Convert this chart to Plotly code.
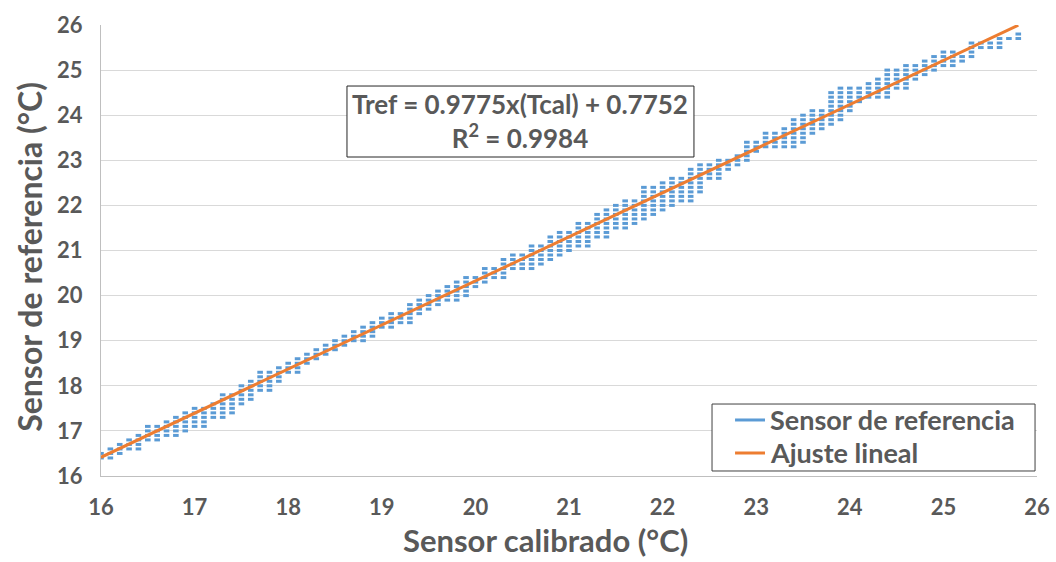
import plotly.graph_objects as go

# Column positions of the calibrated sensor (°C)
col_x = [16.0, 16.1, 16.2, 16.3, 16.4, 16.5, 16.6, 16.7, 16.8, 16.9,
         17.0, 17.1, 17.2, 17.3, 17.4, 17.5, 17.6, 17.7, 17.8, 17.9,
         18.0, 18.1, 18.2, 18.3, 18.4, 18.5, 18.6, 18.7, 18.8, 18.9,
         19.0, 19.1, 19.2, 19.3, 19.4, 19.5, 19.6, 19.7, 19.8, 19.9,
         20.0, 20.1, 20.2, 20.3, 20.4, 20.5, 20.6, 20.7, 20.8, 20.9,
         21.0, 21.1, 21.2, 21.3, 21.4, 21.5, 21.6, 21.7, 21.8, 21.9,
         22.0, 22.1, 22.2, 22.3, 22.4, 22.5, 22.6, 22.7, 22.8, 22.9,
         23.0, 23.1, 23.2, 23.3, 23.4, 23.5, 23.6, 23.7, 23.8, 23.9,
         24.0, 24.1, 24.2, 24.3, 24.4, 24.5, 24.6, 24.7, 24.8, 24.9,
         25.0, 25.1, 25.2, 25.3, 25.4, 25.5, 25.6, 25.7, 25.8]

# Reference sensor readings observed in each column (°C)
col_y = [
    [16.4, 16.5], [16.4, 16.5, 16.6], [16.5, 16.6, 16.7], [16.6, 16.7, 16.8],
    [16.6, 16.7, 16.8, 16.9], [16.8, 16.9, 17.0, 17.1], [16.8, 16.9, 17.0, 17.1],
    [16.9, 17.0, 17.1, 17.2], [16.9, 17.0, 17.1, 17.2, 17.3], [17.0, 17.1, 17.2, 17.3, 17.4],
    [17.1, 17.2, 17.3, 17.4, 17.5], [17.1, 17.2, 17.3, 17.4, 17.5], [17.3, 17.4, 17.5, 17.6],
    [17.3, 17.4, 17.5, 17.6, 17.7, 17.8], [17.4, 17.5, 17.6, 17.7, 17.8],
    [17.6, 17.7, 17.8, 17.9, 18.0], [17.7, 17.8, 17.9, 18.0, 18.1],
    [17.9, 18.0, 18.1, 18.2, 18.3], [17.9, 18.0, 18.1, 18.2, 18.3], [18.1, 18.2, 18.3, 18.4],
    [18.3, 18.4, 18.5], [18.3, 18.4, 18.5, 18.6], [18.5, 18.6, 18.7], [18.6, 18.7, 18.8],
    [18.7, 18.8, 18.9], [18.8, 18.9, 19.0], [18.9, 19.0, 19.1], [19.0, 19.1, 19.2],
    [19.0, 19.1, 19.2, 19.3], [19.1, 19.2, 19.3, 19.4], [19.3, 19.4, 19.5],
    [19.3, 19.4, 19.5, 19.6], [19.4, 19.5, 19.6], [19.4, 19.5, 19.6, 19.7, 19.8],
    [19.6, 19.7, 19.8, 19.9], [19.7, 19.8, 19.9, 20.0], [19.8, 19.9, 20.0, 20.1],
    [19.9, 20.0, 20.1, 20.2], [19.9, 20.0, 20.1, 20.2, 20.3], [20.0, 20.1, 20.2, 20.3, 20.4],
    [20.2, 20.3, 20.4], [20.3, 20.4, 20.5, 20.6], [20.4, 20.5, 20.6],
    [20.4, 20.5, 20.6, 20.7, 20.8], [20.6, 20.7, 20.8, 20.9], [20.6, 20.7, 20.8, 20.9],
    [20.6, 20.7, 20.8, 20.9, 21.0, 21.1], [20.7, 20.8, 20.9, 21.0, 21.1],
    [20.8, 20.9, 21.0, 21.1, 21.2, 21.3], [20.9, 21.0, 21.1, 21.2, 21.3, 21.4],
    [21.0, 21.1, 21.2, 21.3, 21.4], [21.1, 21.2, 21.3, 21.4, 21.5, 21.6],
    [21.1, 21.2, 21.3, 21.4, 21.5, 21.6], [21.3, 21.4, 21.5, 21.6, 21.7, 21.8],
    [21.3, 21.4, 21.5, 21.6, 21.7, 21.8, 21.9], [21.5, 21.6, 21.7, 21.8, 21.9, 22.0],
    [21.5, 21.6, 21.7, 21.8, 21.9, 22.0, 22.1], [21.6, 21.7, 21.8, 21.9, 22.0, 22.1],
    [21.7, 21.8, 21.9, 22.0, 22.1, 22.2, 22.3, 22.4], [21.8, 21.9, 22.0, 22.1, 22.2, 22.3, 22.4],
    [21.9, 22.0, 22.1, 22.2, 22.3, 22.4, 22.5], [22.0, 22.1, 22.2, 22.3, 22.4, 22.5, 22.6],
    [22.1, 22.2, 22.3, 22.4, 22.5, 22.6], [22.1, 22.2, 22.3, 22.4, 22.5, 22.6, 22.7, 22.8],
    [22.3, 22.4, 22.5, 22.6, 22.7, 22.8, 22.9], [22.6, 22.7, 22.8, 22.9],
    [22.6, 22.7, 22.8, 22.9, 23.0], [22.8, 22.9, 23.0], [22.9, 23.0, 23.1],
    [23.0, 23.1, 23.2, 23.3, 23.4], [23.2, 23.3, 23.4], [23.3, 23.4, 23.5, 23.6],
    [23.3, 23.4, 23.5, 23.6], [23.3, 23.4, 23.5, 23.6, 23.7],
    [23.3, 23.4, 23.5, 23.6, 23.7, 23.8, 23.9], [23.4, 23.5, 23.6, 23.7, 23.8, 23.9, 24.0],
    [23.6, 23.7, 23.8, 23.9, 24.0, 24.1], [23.7, 23.8, 23.9, 24.0, 24.1],
    [23.8, 23.9, 24.0, 24.1, 24.2, 24.3, 24.4, 24.5], [23.9, 24.0, 24.1, 24.2, 24.3, 24.4, 24.5, 24.6],
    [24.1, 24.2, 24.3, 24.4, 24.5, 24.6], [24.3, 24.4, 24.5, 24.6], [24.4, 24.5, 24.6, 24.7],
    [24.4, 24.5, 24.6, 24.7, 24.8], [24.4, 24.5, 24.6, 24.7, 24.8, 24.9, 25.0],
    [24.6, 24.7, 24.8, 24.9, 25.0], [24.6, 24.7, 24.8, 24.9, 25.0, 25.1],
    [24.8, 24.9, 25.0, 25.1], [24.9, 25.0, 25.1, 25.2], [25.0, 25.1, 25.2, 25.3],
    [25.1, 25.2, 25.3, 25.4], [25.1, 25.2, 25.3, 25.4], [25.2, 25.3],
    [25.3, 25.4, 25.5, 25.6], [25.5, 25.6], [25.5, 25.6], [25.5, 25.6, 25.7],
    [25.7], [25.7, 25.8],
]

# Linear fit reported on the chart
fit_slope = 0.9775
fit_intercept = 0.7752
fit_r2 = 0.9984

x_ticks = [16, 17, 18, 19, 20, 21, 22, 23, 24, 25, 26]
y_ticks = [16, 17, 18, 19, 20, 21, 22, 23, 24, 25, 26]

series_names = ["Sensor de referencia", "Ajuste lineal"]
x_title = "Sensor calibrado (°C)"
y_title = "Sensor de referencia (°C)"

x_pts, y_pts = [], []
for xv, ys in zip(col_x, col_y):
    for yv in ys:
        x_pts.append(xv)
        y_pts.append(yv)

fit_x = [min(col_x), max(col_x)]
fit_y = [fit_slope * v + fit_intercept for v in fit_x]

BLUE = "#5b9bd5"
ORANGE = "#ed7d31"
GRAY = "#595959"
FONT = "Lato"

fig = go.Figure()
fig.add_trace(go.Scatter(
    x=x_pts, y=y_pts, mode="markers", name=series_names[0], showlegend=False,
    marker=dict(symbol="line-ew", size=4, color=BLUE,
                line=dict(color=BLUE, width=3)),
))
fig.add_trace(go.Scatter(
    x=fit_x, y=fit_y, mode="lines", name=series_names[1], showlegend=False,
    line=dict(color=ORANGE, width=3),
))

# Legend drawn as a boxed key (line swatches as in the original)
leg_x0, leg_x1, leg_y0, leg_y1 = 0.6528, 0.9979, 0.0111, 0.1596
sw_x0, sw_x1, txt_x = 0.6774, 0.7094, 0.7126
row_y = [0.1242, 0.0510]
row_col = [BLUE, ORANGE]

shapes = [
    dict(type="rect", xref="paper", yref="paper",
         x0=0.2628, x1=0.6335, y0=0.7073, y1=0.8647,
         line=dict(color="#262626", width=1), fillcolor="white", layer="above"),
    dict(type="rect", xref="paper", yref="paper",
         x0=leg_x0, x1=leg_x1, y0=leg_y0, y1=leg_y1,
         line=dict(color="#404040", width=1), fillcolor="white", layer="above"),
]
annotations = [
    dict(xref="paper", yref="paper", x=0.448, y=0.788, xanchor="center", yanchor="middle",
         text=(f"Tref = {fit_slope}x(Tcal) + {fit_intercept}<br>"
               f"R<sup>2</sup> = {fit_r2}"),
         showarrow=False, align="center",
         font=dict(family=FONT, size=26, color=GRAY, weight="bold")),
    dict(xref="paper", yref="paper", x=0.4754, y=-0.1419, xanchor="center", yanchor="middle",
         text=x_title, showarrow=False, borderpad=0,
         font=dict(family=FONT, size=31, color=GRAY, weight="bold")),
    dict(xref="paper", yref="paper", x=-0.0759, y=0.486, xanchor="center", yanchor="middle",
         text=y_title, showarrow=False, textangle=-90,
         font=dict(family=FONT, size=32, color=GRAY, weight="bold")),
]
for name, yy, cc in zip(series_names, row_y, row_col):
    shapes.append(dict(type="line", xref="paper", yref="paper",
                       x0=sw_x0, x1=sw_x1, y0=yy, y1=yy,
                       line=dict(color=cc, width=3), layer="above"))
    annotations.append(dict(xref="paper", yref="paper", x=txt_x, y=yy,
                            xanchor="left", yanchor="middle", text=name, showarrow=False,
                            font=dict(family=FONT, size=27, color=GRAY, weight="bold")))

fig.update_layout(
    width=1056, height=562,
    margin=dict(l=101, r=19, t=25, b=86),
    paper_bgcolor="white", plot_bgcolor="white",
    font=dict(family=FONT, color=GRAY),
    showlegend=False,
    xaxis=dict(
        range=[16, 26], tickvals=x_ticks, ticktext=[str(t) for t in x_ticks],
        showgrid=False, zeroline=False,
        showline=True, linecolor="#bfbfbf", linewidth=1,
        ticks="", ticklabelstandoff=12,
        tickfont=dict(family=FONT, size=22, color=GRAY, weight="bold"),
        automargin=False,
    ),
    yaxis=dict(
        range=[16, 26], tickvals=y_ticks, ticktext=[str(t) for t in y_ticks],
        showgrid=True, gridcolor="#d9d9d9", gridwidth=1, zeroline=False,
        showline=True, linecolor="#bfbfbf", linewidth=1,
        ticks="", ticklabelstandoff=13,
        tickfont=dict(family=FONT, size=22, color=GRAY, weight="bold"),
        automargin=False,
    ),
    shapes=shapes,
    annotations=annotations,
)

fig.write_html("out.html")
